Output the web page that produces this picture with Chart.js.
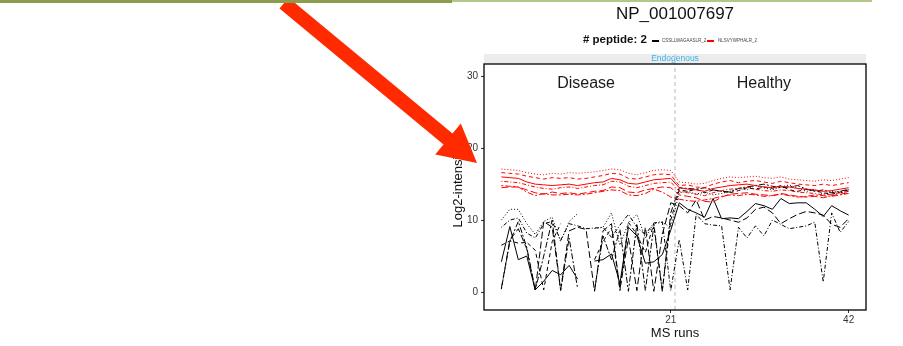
<!DOCTYPE html>
<html>
<head>
<meta charset="utf-8">
<script src="https://cdn.jsdelivr.net/npm/chart.js@4.4.0/dist/chart.umd.min.js"></script>
<style>
  body { margin: 0; background: #fff; font-family: "Liberation Sans", Arial, sans-serif; }
  #wrap { position: relative; width: 903px; height: 346px; overflow: hidden; }
  #c { position: absolute; left: 0; top: 0; }
  .bar1 { position: absolute; left: 0; top: 0; width: 452px; height: 3px; background: #8b9d4d; z-index: 5; }
  .bar2 { position: absolute; left: 452px; top: 0; width: 420px; height: 2px; background: #b3c888; z-index: 5; }
  #title { position: absolute; left: 575px; width: 200px; top: 4px; text-align: center; font-size: 17px; color: #111; }
  .lg { position: absolute; white-space: nowrap; }
  #lgTitle { left: 583px; top: 33px; font-size: 11.5px; font-weight: bold; color: #111; }
  .lgLine { position: absolute; height: 1.5px; width: 7px; top: 40px; }
  .lgText { position: absolute; top: 38px; font-size: 4.5px; color: #444; white-space: nowrap; }
  #arrow { position: absolute; left: 0; top: 0; z-index: 4; }
</style>
</head>
<body>
<div id="wrap">
  <canvas id="c" width="903" height="346"></canvas>
  <div class="bar1"></div><div class="bar2"></div>
  <div id="title">NP_001007697</div>
  <div id="lgTitle" class="lg"># peptide: 2</div>
  <div class="lgLine" style="left:652px;background:#000"></div>
  <div class="lgText" style="left:662px">CSSLLWAGAASLR_2</div>
  <div class="lgLine" style="left:707px;background:#f00"></div>
  <div class="lgText" style="left:718px">NLSVYWPHALR_2</div>
  <svg id="arrow" width="903" height="346">
    <polygon fill="#ff2a00" points="288.5,-2.4 452.5,133.6 460.8,123.6 477,163 435.2,154.4 443.5,144.4 279.5,8.4"/>
  </svg>
</div>
<script>
// MS runs 1..42 (1-21 Disease, 22-42 Healthy)
var runs = [1,2,3,4,5,6,7,8,9,10,11,12,13,14,15,16,17,18,19,20,21,
            22,23,24,25,26,27,28,29,30,31,32,33,34,35,36,37,38,39,40,41,42];
var xTicks = [21, 42];
var yTicks = [0, 10, 20, 30];
var groupLabels = ["Disease", "Healthy"];
var groupLabelRuns = [11, 32];
var groupDivide = 21.5;

// peptide 1 (black) transitions
var k1 = [4.2,9.1,4.5,5.0,0.3,1.5,3.0,2.4,3.7,1.8,null,4.3,4.5,5.3,1.2,9.0,7.8,4.0,4.2,5.2,8.6,
          12.4,11.5,11.0,10.4,13.0,10.2,10.3,10.2,11.2,12.3,12.0,11.5,13.0,12.3,12.4,12.4,11.5,10.5,12.0,11.3,10.7];
var k2 = [6.5,7.1,6.8,6.9,5.8,0.3,7.0,9.5,null,null,null,4.5,7.0,8.9,0.2,9.7,8.0,5.5,9.5,0.2,10.0,
          14.2,14.0,14.3,13.8,14.2,14.0,13.8,14.1,14.5,14.3,14.6,14.4,14.8,14.2,14.0,14.3,14.1,13.8,13.6,13.9,14.2];
var k3 = [10.0,11.5,11.5,9.5,8.0,9.8,10.4,7.0,9.8,10.9,null,8.8,9.0,11.0,6.5,9.6,10.8,7.5,9.5,9.7,9.0,
          13.8,14.0,13.6,13.9,13.5,13.7,14.0,14.4,14.2,14.8,14.5,14.2,14.6,14.9,14.4,14.0,14.2,13.6,14.0,13.8,14.0];
var k4 = [9.0,10.0,10.3,8.2,7.5,9.5,9.8,7.2,9.5,9.2,8.8,8.9,9.0,7.6,9.3,10.8,9.0,8.0,9.6,9.8,0.2,
          7.3,0.3,10.8,9.5,9.3,9.2,0.3,9.0,7.5,9.2,7.8,10.0,9.4,8.8,9.0,9.2,9.7,1.4,11.0,8.3,9.8];
var k5 = [0.4,7.0,9.8,6.2,0.3,5.0,10.0,0.2,7.5,0.5,null,0.2,7.8,4.5,8.7,0.1,9.5,0.2,9.2,0.1,11.0,
          14.5,14.4,14.3,14.5,14.2,14.0,13.9,14.4,14.6,14.8,15.0,14.7,14.5,14.6,14.8,14.3,14.0,14.2,13.8,14.0,14.3];
var k6 = [0.5,7.2,8.8,6.0,0.2,9.8,9.0,0.3,8.5,9.0,8.7,0.1,8.5,9.5,0.4,7.5,0.2,9.0,0.1,8.0,12.4,
          12.0,11.0,12.8,10.0,10.5,10.3,10.0,9.7,10.3,11.5,11.8,11.0,9.5,10.2,10.8,11.2,11.0,10.7,9.4,9.0,10.2];

// peptide 2 (red) transitions
var r1 = [17.1,17.0,16.9,16.6,16.4,16.3,16.5,16.4,16.6,16.5,16.6,16.7,16.9,17.1,17.0,16.5,16.3,16.6,16.9,17.0,16.9,
          15.3,15.2,15.0,15.1,15.5,15.8,16.0,15.9,16.0,16.1,15.9,15.8,16.0,15.7,15.6,15.5,15.4,15.6,15.5,15.7,15.9];
var r2 = [16.6,16.5,16.4,16.1,15.9,15.7,15.9,15.8,15.9,15.7,15.8,16.0,16.2,16.5,16.4,15.8,15.7,16.0,16.3,16.4,16.3,
          14.8,14.9,14.6,14.5,15.0,15.3,15.5,15.2,15.4,15.5,15.3,15.1,15.4,15.2,15.0,14.9,14.8,15.0,14.8,15.0,15.2];
var r3 = [16.0,15.9,15.8,15.3,15.0,14.9,14.8,14.9,15.0,14.8,15.0,15.2,15.3,15.8,15.6,15.1,15.0,15.3,15.6,15.7,15.8,
          14.5,14.3,14.2,14.0,14.4,14.6,14.8,14.9,15.0,14.8,14.6,14.5,14.7,14.6,14.4,14.3,14.2,14.0,14.1,14.3,14.5];
var r4 = [15.4,15.3,15.2,14.9,14.6,14.4,14.3,14.5,14.6,14.4,14.6,14.8,14.9,15.4,15.3,14.7,14.5,14.8,15.1,15.2,15.3,
          14.0,13.8,13.6,13.4,13.8,14.1,14.3,14.4,14.6,14.3,14.1,14.0,14.2,14.1,13.9,13.8,13.7,13.5,13.6,13.8,14.0];
var r5 = [14.5,14.6,14.6,14.2,13.8,13.6,13.9,13.7,13.8,13.6,13.8,14.0,14.1,14.6,14.5,13.9,13.8,14.2,14.4,14.6,14.5,
          13.5,13.3,13.1,12.6,12.5,13.2,13.6,13.7,13.8,13.6,13.5,13.4,13.7,13.5,13.3,13.2,13.3,13.1,13.4,13.6,13.8];
var r6 = [14.8,14.7,14.6,13.9,13.4,13.7,13.5,13.5,13.6,13.5,13.6,13.8,14.0,14.2,14.1,13.5,13.4,13.7,14.3,13.9,13.2,
          12.9,12.7,12.6,12.8,13.0,13.3,13.5,13.4,13.6,13.5,13.3,13.4,13.6,13.4,13.2,13.3,13.5,13.4,13.3,13.5,13.7];

// ggplot-like line types
var lty = {
  solid: [], dashed: [4, 3], dotted: [1, 2], dotdash: [1, 2, 4, 2], longdash: [7, 3], twodash: [2, 2, 6, 2]
};

function series(vals, color, dash) {
  return {
    data: runs.map(function(r, i) { return {x: r, y: vals[i]}; }),
    borderColor: color,
    borderWidth: 1,
    borderDash: dash,
    pointRadius: 0,
    fill: false,
    tension: 0,
    spanGaps: false
  };
}

var panelDecor = {
  id: 'panelDecor',
  beforeDatasetsDraw: function(chart) {
    var ctx = chart.ctx, a = chart.chartArea, xs = chart.scales.x, ys = chart.scales.y;
    ctx.save();
    // facet strip
    ctx.fillStyle = '#ececec';
    ctx.fillRect(a.left, a.top - 10, a.right - a.left, 10);
    ctx.fillStyle = '#33b5f0';
    ctx.font = '8.5px "Liberation Sans", Arial, sans-serif';
    ctx.textAlign = 'center';
    ctx.textBaseline = 'middle';
    ctx.fillText('Endogenous', (a.left + a.right) / 2, a.top - 5);
    // group divider
    var xd = xs.getPixelForValue(groupDivide);
    ctx.strokeStyle = '#d0d0d0';
    ctx.lineWidth = 1.5;
    ctx.setLineDash([4, 3]);
    ctx.beginPath();
    ctx.moveTo(xd, a.top - 10);
    ctx.lineTo(xd, a.bottom);
    ctx.stroke();
    ctx.setLineDash([]);
    // group labels
    ctx.fillStyle = '#1a1a1a';
    ctx.font = '16px "Liberation Sans", Arial, sans-serif';
    for (var i = 0; i < groupLabels.length; i++) {
      ctx.fillText(groupLabels[i], xs.getPixelForValue(groupLabelRuns[i]), ys.getPixelForValue(29));
    }
    ctx.restore();
  },
  afterDatasetsDraw: function(chart) {
    var ctx = chart.ctx, a = chart.chartArea;
    ctx.save();
    ctx.strokeStyle = '#000';
    ctx.lineWidth = 1.3;
    ctx.strokeRect(a.left, a.top, a.right - a.left, a.bottom - a.top);
    ctx.restore();
  }
};

new Chart(document.getElementById('c'), {
  type: 'line',
  data: {
    datasets: [
      series(r1, '#ff0000', lty.dotted),
      series(r2, '#ff0000', lty.dashed),
      series(r3, '#ff0000', lty.solid),
      series(r4, '#ff0000', lty.dotdash),
      series(r5, '#ff0000', lty.longdash),
      series(r6, '#ff0000', lty.twodash),
      series(k1, '#000000', lty.solid),
      series(k2, '#000000', lty.dashed),
      series(k3, '#000000', lty.dotted),
      series(k4, '#000000', lty.dotdash),
      series(k5, '#000000', lty.twodash),
      series(k6, '#000000', lty.longdash)
    ]
  },
  options: {
    responsive: false,
    animation: false,
    events: [],
    layout: { padding: { left: 451, right: 37, top: 64, bottom: 0 } },
    plugins: { legend: { display: false }, tooltip: { enabled: false } },
    scales: {
      x: {
        type: 'linear', min: -1.05, max: 44.05,
        afterBuildTicks: function(s) { s.ticks = xTicks.map(function(v) { return {value: v}; }); },
        afterFit: function(s) { s.height = 36; },
        grid: { display: true, drawOnChartArea: false, drawTicks: true, tickLength: 3, color: '#333' },
        border: { display: false },
        ticks: { padding: 1, color: '#333', font: { size: 10, family: '"Liberation Sans", Arial, sans-serif' }, maxRotation: 0 },
        title: { display: true, text: 'MS runs', color: '#111', padding: { top: 0, bottom: 5 },
                 font: { size: 13, family: '"Liberation Sans", Arial, sans-serif' } }
      },
      y: {
        type: 'linear', min: -2.5, max: 31.7,
        afterBuildTicks: function(s) { s.ticks = yTicks.map(function(v) { return {value: v}; }); },
        afterFit: function(s) { s.width = 33; },
        grid: { display: true, drawOnChartArea: false, drawTicks: true, tickLength: 3, color: '#333' },
        border: { display: false },
        ticks: { padding: 3, color: '#333', font: { size: 10, family: '"Liberation Sans", Arial, sans-serif' } },
        title: { display: true, text: 'Log2-intensity', color: '#111', padding: { top: 0, bottom: 0 },
                 font: { size: 13, family: '"Liberation Sans", Arial, sans-serif' } }
      }
    }
  },
  plugins: [panelDecor]
});
</script>
</body>
</html>
